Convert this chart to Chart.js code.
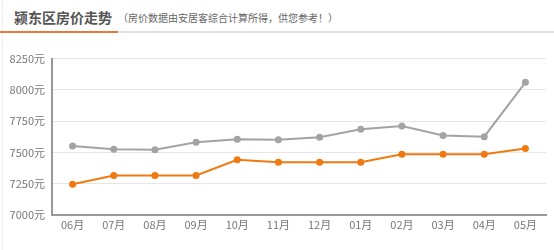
<!DOCTYPE html>
<html>
<head>
<meta charset="utf-8">
<script src="https://cdn.jsdelivr.net/npm/chart.js@4/dist/chart.umd.min.js"></script>
<style>
  html, body { margin: 0; padding: 0; background: #fff; }
  body { width: 554px; height: 250px; position: relative; overflow: hidden; font-family: "Noto Sans CJK SC", sans-serif; }
  .frame { position: absolute; left: 2px; top: 0; width: 552px; height: 250px; border-left: 1px solid #eee; }
  .title { position: absolute; left: 14px; top: 7px; font-size: 14px; font-weight: bold; color: #555; line-height: 20px; }
  .sub { position: absolute; left: 118px; top: 11px; font-size: 10px; color: #666; line-height: 14px; }
  .line-gray { position: absolute; left: 0; top: 31px; width: 554px; height: 2px; background: #e2e2e2; }
  .line-orange { position: absolute; left: 0; top: 31px; width: 118px; height: 2px; background: #e8793a; }
  .wrap { position: absolute; left: 0; top: 45px; width: 554px; height: 205px; }
</style>
</head>
<body>
<div class="frame"></div>
<div class="title">颍东区房价走势</div>
<div class="sub">（房价数据由安居客综合计算所得，供您参考！）</div>
<div class="line-gray"></div>
<div class="line-orange"></div>
<div class="wrap"><canvas id="priceChart"></canvas></div>
<script>
// 月份
const months = ['06月', '07月', '08月', '09月', '10月', '11月', '12月', '01月', '02月', '03月', '04月', '05月'];
// 灰色线 (上面那条)
const grayPrices = [7550, 7525, 7520, 7580, 7605, 7600, 7620, 7685, 7710, 7635, 7625, 8060];
// 橙色线
const orangePrices = [7245, 7315, 7315, 7315, 7440, 7420, 7420, 7420, 7485, 7485, 7485, 7530];
const yTicks = [7000, 7250, 7500, 7750, 8000, 8250];

const ctx = document.getElementById('priceChart').getContext('2d');

new Chart(ctx, {
    type: 'line',
    data: {
        labels: months,
        datasets: [{
            data: grayPrices,
            borderColor: '#a3a3a3',
            backgroundColor: '#a3a3a3',
            borderWidth: 2,
            pointRadius: 3.5,
            pointBorderWidth: 0,
            tension: 0
        }, {
            data: orangePrices,
            borderColor: '#f07a12',
            backgroundColor: '#f07a12',
            borderWidth: 2,
            pointRadius: 3.5,
            pointBorderWidth: 0,
            tension: 0
        }]
    },
    options: {
        responsive: true,
        maintainAspectRatio: false,
        animation: false,
        layout: { padding: { top: 1, right: 8, left: 0, bottom: 16 } },
        plugins: {
            legend: { display: false },
            tooltip: { enabled: false }
        },
        scales: {
            x: {
                offset: true,
                grid: { display: false, drawTicks: false },
                border: { color: '#999', width: 2 },
                ticks: {
                    color: '#777',
                    font: { size: 11, family: 'Noto Sans CJK SC' },
                    padding: 3
                }
            },
            y: {
                min: 7000,
                max: 8250,
                afterBuildTicks: function(scale) {
                    scale.ticks = yTicks.map(v => ({ value: v }));
                },
                afterFit: function(scale) {
                    scale.width = 52;
                },
                grid: { color: '#e6e6e6', drawTicks: false },
                border: { color: '#999', width: 2 },
                ticks: {
                    color: '#777',
                    font: { size: 11, family: 'Noto Sans CJK SC' },
                    padding: 7,
                    callback: function(value) {
                        return value + '元';
                    }
                }
            }
        }
    }
});
</script>
</body>
</html>
